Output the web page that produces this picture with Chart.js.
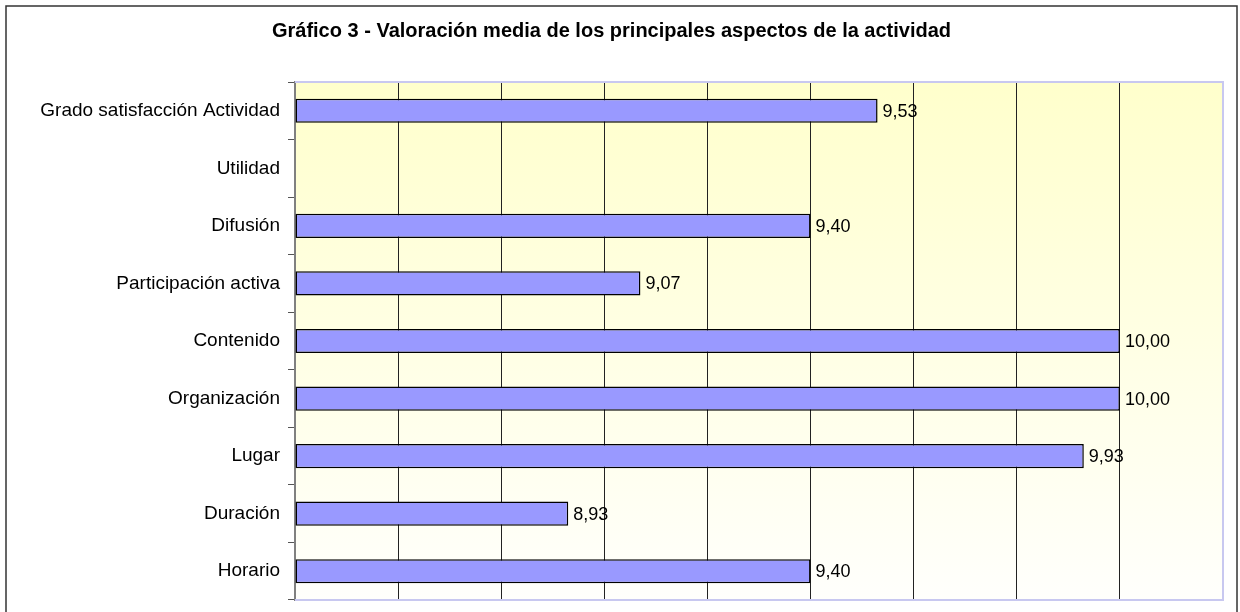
<!DOCTYPE html>
<html>
<head>
<meta charset="utf-8">
<script src="https://cdn.jsdelivr.net/npm/chart.js@4.4.0/dist/chart.umd.min.js"></script>
<style>
  body { margin: 0; background: #fff; }
  canvas { display: block; }
</style>
</head>
<body>
<canvas id="barGraph" width="1240" height="612"></canvas>
<script>
const chartTitle = 'Gráfico 3 - Valoración media de los principales aspectos de la actividad';
const aspects = [
  'Grado satisfacción Actividad',
  'Utilidad',
  'Difusión',
  'Participación activa',
  'Contenido',
  'Organización',
  'Lugar',
  'Duración',
  'Horario'
];
const scores = [9.53, null, 9.40, 9.07, 10.00, 10.00, 9.93, 8.93, 9.40];
const xMin = 8.4;
const xMax = 10.2;
const xStep = 0.2;

const fontFamily = '"Liberation Sans", Arial, sans-serif';

// background gradient, outer frame, plot border
const decor = {
  id: 'decor',
  beforeDraw(chart) {
    const { ctx, chartArea: a } = chart;
    ctx.save();
    ctx.strokeStyle = '#333';
    ctx.lineWidth = 1.5;
    ctx.strokeRect(6, 6, chart.width - 9, chart.height + 10);
    const g = ctx.createLinearGradient(0, a.top, 0, a.bottom);
    g.addColorStop(0, '#ffffcc');
    g.addColorStop(1, '#fffffc');
    ctx.fillStyle = g;
    ctx.fillRect(a.left, a.top, a.right - a.left, a.bottom - a.top);
    ctx.restore();
  },
  afterDatasetsDraw(chart) {
    const { ctx, chartArea: a } = chart;
    ctx.save();
    ctx.strokeStyle = '#c8c8f0';
    ctx.lineWidth = 2;
    ctx.beginPath();
    ctx.moveTo(a.left, a.top);
    ctx.lineTo(a.right, a.top);
    ctx.lineTo(a.right, a.bottom);
    ctx.lineTo(a.left, a.bottom);
    ctx.stroke();
    ctx.restore();
  }
};

// value labels to the right of each bar
const valueLabels = {
  id: 'valueLabels',
  afterDatasetsDraw(chart) {
    const { ctx } = chart;
    const meta = chart.getDatasetMeta(0);
    ctx.save();
    ctx.font = '18px ' + fontFamily;
    ctx.fillStyle = '#000';
    ctx.textAlign = 'left';
    ctx.textBaseline = 'middle';
    meta.data.forEach((bar, i) => {
      const v = scores[i];
      if (v === null) return;
      ctx.fillText(v.toFixed(2).replace('.', ','), bar.x + 5, bar.y + 1);
    });
    ctx.restore();
  }
};

const ctx = document.getElementById('barGraph').getContext('2d');
new Chart(ctx, {
  type: 'bar',
  data: {
    labels: aspects,
    datasets: [{
      data: scores,
      base: xMin,
      backgroundColor: '#9999ff',
      borderColor: '#000',
      borderWidth: 1.5,
      borderSkipped: false,
      barPercentage: 0.42,
      categoryPercentage: 1
    }]
  },
  options: {
    indexAxis: 'y',
    responsive: false,
    animation: false,
    layout: { padding: { top: 0, right: 17, bottom: 12, left: 0 } },
    plugins: {
      legend: { display: false },
      tooltip: { enabled: false },
      title: {
        display: true,
        text: chartTitle,
        color: '#000',
        font: { family: fontFamily, size: 20, weight: 'bold' },
        padding: { top: 19, bottom: 39 }
      }
    },
    scales: {
      x: {
        min: xMin,
        max: xMax,
        ticks: { display: false, stepSize: xStep },
        border: { display: false },
        grid: {
          drawTicks: false,
          lineWidth: 1,
          color: c => (c.index === 0 || c.index === c.scale.ticks.length - 1) ? 'rgba(0,0,0,0)' : '#222'
        },
        afterFit: s => { s.height = 0; s.paddingLeft = 0; s.paddingRight = 0; }
      },
      y: {
        border: { color: '#808080', width: 2 },
        grid: { drawOnChartArea: false, drawTicks: true, tickLength: 7, color: '#555' },
        ticks: {
          color: '#000',
          padding: 8,
          font: { family: fontFamily, size: 19 }
        },
        afterFit: s => { s.width = 295; s.paddingTop = 0; s.paddingBottom = 0; }
      }
    }
  },
  plugins: [decor, valueLabels]
});
</script>
</body>
</html>
